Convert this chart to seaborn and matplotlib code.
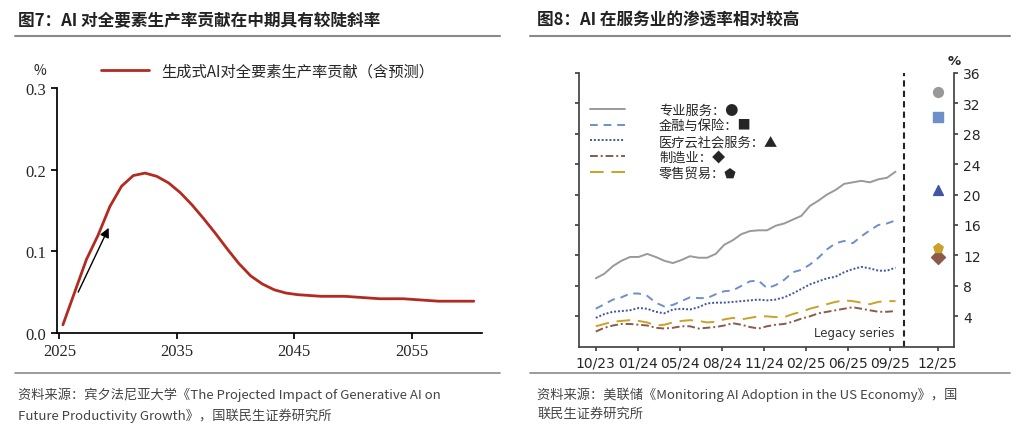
"""
Two panels: GenAI contribution to TFP (left), AI adoption by sector (right).
"""
import matplotlib.pyplot as plt
from matplotlib.lines import Line2D
import numpy as np
import pandas as pd
import seaborn as sns

sns.set_theme(style="white")
CJK = ["Noto Sans CJK SC", "DejaVu Sans"]
plt.rcParams["font.family"] = CJK

# ---- left panel data: contribution, % ----
years = list(range(2025, 2061))
tfp = [0.01, 0.05, 0.09, 0.12, 0.155, 0.18, 0.193, 0.196, 0.192, 0.184,
       0.172, 0.157, 0.14, 0.122, 0.103, 0.085, 0.07, 0.06, 0.053, 0.049,
       0.047, 0.046, 0.045, 0.045, 0.045, 0.044, 0.043, 0.042, 0.042, 0.042,
       0.041, 0.040, 0.039, 0.039, 0.039, 0.039]
df_tfp = pd.DataFrame({"year": np.array(years) + 0.3, "tfp": tfp})

# ---- right panel data: adoption rate, % ----
adoption = {
    "专业服务：●": [9.0, 9.6, 10.6, 11.3, 11.8, 11.8, 12.2, 11.8, 11.3, 11.0, 11.4, 11.9,
                 11.7, 11.7, 12.2, 13.4, 14.0, 14.8, 15.2, 15.3, 15.3, 15.9, 16.2, 16.7,
                 17.2, 18.5, 19.2, 20.0, 20.6, 21.4, 21.6, 21.8, 21.6, 22.0, 22.2, 23.0],
    "金融与保险：■": [5.0, 5.6, 6.2, 6.5, 7.0, 7.0, 6.7, 5.8, 5.3, 5.5, 6.0, 6.5,
                  6.4, 6.4, 6.9, 7.3, 7.4, 8.0, 8.6, 8.7, 7.7, 8.1, 8.8, 9.8,
                  10.1, 10.8, 11.7, 12.8, 13.6, 13.9, 13.6, 14.5, 15.3, 16.0, 16.2, 16.6],
    "医疗云社会服务：▲": [3.8, 4.3, 4.6, 4.7, 4.8, 5.1, 5.0, 4.6, 4.4, 4.9, 5.0, 4.9,
                    5.2, 5.7, 5.8, 5.8, 5.9, 6.0, 6.1, 6.2, 6.1, 6.2, 6.5, 7.0,
                    7.6, 8.2, 8.6, 9.0, 9.2, 9.8, 10.2, 10.5, 10.3, 10.0, 10.0, 10.4],
    "制造业：◆": [2.0, 2.5, 2.8, 3.0, 3.0, 2.9, 2.8, 2.5, 2.4, 2.5, 2.7, 2.7,
               2.4, 2.5, 2.6, 2.8, 3.1, 2.9, 2.6, 2.4, 2.7, 2.9, 3.0, 3.3,
               3.7, 4.0, 4.4, 4.6, 4.8, 5.0, 5.2, 5.0, 4.8, 4.6, 4.6, 4.7],
    "零售贸易：⬟": [2.7, 3.0, 3.3, 3.4, 3.5, 3.4, 3.2, 2.8, 2.9, 3.2, 3.4, 3.5,
                 3.4, 3.2, 3.3, 3.6, 3.8, 3.6, 3.8, 4.0, 4.0, 3.9, 3.9, 4.3,
                 4.6, 5.0, 5.3, 5.6, 5.9, 6.1, 6.0, 5.8, 5.6, 5.9, 6.0, 6.0],
}
styles = {
    "专业服务：●": dict(color="#999999", ls="-", marker="o", dec=33.5),
    "金融与保险：■": dict(color="#6f8fc9", ls=(0, (4, 3)), marker="s", dec=30.2),
    "医疗云社会服务：▲": dict(color="#3f56a0", ls=(0, (1, 1)), marker="^", dec=20.6),
    "制造业：◆": dict(color="#8b5a4a", ls=(0, (4, 1.5, 1, 1.5)), marker="D", dec=11.8),
    "零售贸易：⬟": dict(color="#c9a227", ls=(0, (7, 4)), marker="p", dec=13.0),
}
tick_labels = ["10/23", "01/24", "05/24", "08/24", "11/24", "02/25", "06/25", "09/25"]
x_series = np.linspace(0, 7.13, 36)
x_dec = 8.13

fig = plt.figure(figsize=(10.24, 4.31), dpi=100)

# titles and rules
fig.text(18 / 1024, 1 - 21 / 431, "图7：AI 对全要素生产率贡献在中期具有较陡斜率",
         fontsize=12, fontweight="bold", va="center", color="#222222")
fig.text(537 / 1024, 1 - 21 / 431, "图8：AI 在服务业的渗透率相对较高",
         fontsize=12, fontweight="bold", va="center", color="#222222")
for x0, x1 in [(15, 500), (530, 1010)]:
    fig.add_artist(Line2D([x0 / 1024, x1 / 1024], [1 - 37 / 431] * 2, color="#8a8a8a", lw=1.5))
    fig.add_artist(Line2D([x0 / 1024, x1 / 1024], [1 - 374 / 431] * 2, color="#8a8a8a", lw=1.2))
fig.text(18 / 1024, 1 - 388 / 431,
         "资料来源：宾夕法尼亚大学《The Projected Impact of Generative AI on\nFuture Productivity Growth》，国联民生证券研究所",
         fontsize=9.5, color="#444444", va="top", linespacing=1.5)
fig.text(537 / 1024, 1 - 388 / 431,
         "资料来源：美联储《Monitoring AI Adoption in the US Economy》，国\n联民生证券研究所",
         fontsize=9.5, color="#444444", va="top", linespacing=1.5)

# ---- left panel ----
ax1 = fig.add_axes([0.0557, 0.225, 0.415, 0.568])
sns.lineplot(data=df_tfp, x="year", y="tfp", ax=ax1, color="#b22a20", lw=2,
             label="生成式AI对全要素生产率贡献（含预测）")
ax1.annotate("", xy=(2029.3, 0.132), xytext=(2026.5, 0.047),
             arrowprops=dict(arrowstyle="-|>", color="black", lw=1, mutation_scale=14))
ax1.set_xlim(2024.8, 2061)
ax1.set_ylim(0, 0.3)
ax1.set_xticks([2025, 2035, 2045, 2055])
ax1.set_yticks([0.0, 0.1, 0.2, 0.3])
ax1.set_yticklabels(["0.0", "0.1", "0.2", "0.3"])
ax1.set_xlabel("")
ax1.set_ylabel("")
for lab in ax1.get_xticklabels() + ax1.get_yticklabels():
    lab.set_fontfamily("Liberation Serif")
    lab.set_fontsize(12)
ax1.tick_params(axis="both", length=4, direction="out", color="black", left=True, bottom=True)
ax1.spines[["top", "right"]].set_visible(False)
for s in ["left", "bottom"]:
    ax1.spines[s].set_color("black")
ax1.text(-0.04, 1.06, "%", transform=ax1.transAxes, fontsize=10, ha="center")
ax1.legend(loc="lower left", bbox_to_anchor=(0.07, 0.98), frameon=False,
           handlelength=3.2, prop={"family": CJK, "size": 11})

# ---- right panel ----
ax2 = fig.add_axes([0.565, 0.193, 0.367, 0.636])
handles = []
for name, vals in adoption.items():
    st = styles[name]
    sns.lineplot(x=x_series, y=vals, ax=ax2, color=st["color"], lw=1.4,
                 linestyle=st["ls"], legend=False)
    ax2.scatter([x_dec], [st["dec"]], marker=st["marker"], color=st["color"], s=50, zorder=3)
    handles.append(Line2D([], [], color=st["color"], lw=1.4, linestyle=st["ls"]))
ax2.axvline(7.32, color="#222222", ls=(0, (3, 2)), lw=1.5)
ax2.text(7.1, 1.0, "Legacy series", ha="right", va="bottom", fontsize=8.5,
         fontfamily="DejaVu Sans", color="#333333")
ax2.set_xlim(-0.41, 8.53)
ax2.set_ylim(0, 36)
ax2.set_xticks(list(range(8)) + [x_dec])
ax2.set_xticklabels(tick_labels + ["12/25"], fontsize=10, fontfamily="DejaVu Sans")
ax2.yaxis.tick_right()
ax2.set_yticks(range(4, 37, 4))
ax2.set_yticklabels([str(v) for v in range(4, 37, 4)], fontsize=10, fontfamily="DejaVu Sans")
ax2.tick_params(axis="both", length=3, direction="out", color="#444444", bottom=True, right=True)
ax2.tick_params(axis="y", which="both", left=True)
for s in ax2.spines.values():
    s.set_color("#444444")
ax2.spines["top"].set_visible(False)
ax2.text(1.0, 1.03, "%", transform=ax2.transAxes, fontsize=9.5, ha="center",
         fontweight="bold", fontfamily="DejaVu Sans")
ax2.legend(handles, list(adoption.keys()), loc="upper left", bbox_to_anchor=(0.0, 0.93),
           frameon=False, prop={"family": CJK, "size": 9.5}, handlelength=2.6,
           handletextpad=2.6, labelspacing=0.2)

fig.savefig("out.png", dpi=100)
